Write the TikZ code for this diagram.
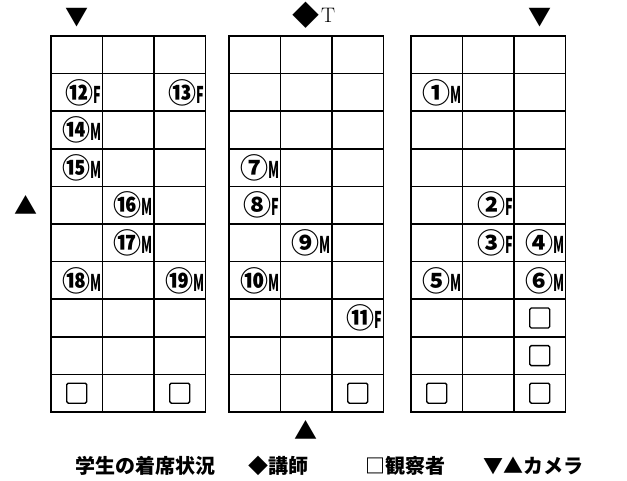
\documentclass[tikz,border=0pt]{standalone}
\usepackage{fontspec}
\usepackage{graphicx}
\newfontfamily\jpfont{Noto Sans CJK JP}
\usepackage{tikz}
\usetikzlibrary{positioning}

\newcommand{\sexmark}[1]{\scalebox{0.55}[1]{\fontsize{23}{23}\selectfont\bfseries #1}}

\begin{document}
\begin{tikzpicture}[
			x=1pt,y=-1pt,
			node distance=10pt,
			cell/.style={
				draw,
				line width=1.5pt,
				minimum width=51.5pt,
				minimum height=37.6pt,
				inner sep=0pt,
				outer sep=0pt
			},
			seat/.style={font=\jpfont\fontsize{28}{28}\selectfont\bfseries,inner sep=0pt,anchor=east},
			obs/.style={draw,line width=1.4pt,rounded corners=1.5pt,minimum size=20pt,inner sep=0pt},
			cam/.style={font=\jpfont\fontsize{23}{23}\selectfont,inner sep=0pt},
			legend/.style={font=\jpfont\fontsize{20}{20}\selectfont\bfseries,inner sep=0pt,anchor=base west}
			]
			\useasboundingbox (0,0) rectangle (627,481);
			
			% three blocks of desks
			\foreach \g/\x in {L/51,C/229,R/411}
			\foreach \r in {1,...,10}
			\foreach \c in {1,2,3}
			\node[cell] (\g-\r-\c) at ({\x+(\c-0.5)*51.5},{36+(\r-0.5)*37.6}) {};
			
			% students
			\foreach \cl/\num/\sx in {L-2-1/⑫/F,L-2-3/⑬/F,L-3-1/⑭/M,L-4-1/⑮/M,
				L-5-2/⑯/M,L-6-2/⑰/M,L-7-1/⑱/M,L-7-3/⑲/M,
				C-4-1/⑦/M,C-5-1/⑧/F,C-6-2/⑨/M,C-7-1/⑩/M,C-8-3/⑪/F,
				R-2-1/①/M,R-5-2/②/F,R-6-2/③/F,R-6-3/④/M,R-7-1/⑤/M,R-7-3/⑥/M}
			\node[seat] (p-\cl) at ([xshift=-1pt]\cl.east) {\num\sexmark{\sx}};
			
			% observers
			\foreach \cl in {L-10-1,L-10-3,C-10-3,R-8-3,R-9-3,R-10-1,R-10-3}
			\node[obs] (o-\cl) at (\cl) {};
			
			% cameras and teacher
			\node[cam,above=9pt of L-1-1] (camTL) {▼};
			\node[cam,above=9pt of R-1-3] (camTR) {▼};
			\node[cam,left=13pt of L-5-1] (camML) {▲};
			\node[cam,below=8pt of C-10-2] (camB) {▲};
			\node[cam,above=7pt of C-1-2,font=\jpfont\fontsize{27}{27}\selectfont] (teacher) {◆};
			\node[right=1pt of teacher,inner sep=0pt,font=\fontsize{21}{21}\selectfont] (tlabel) {T};
			
			% legend
			\node[legend] (cap) at (75,473) {学生の着席状況};
			\node[legend] (keyT) at (248,473) {◆講師};
			\node[legend] (keyO) at (365,473) {□観察者};
			\node[legend] (keyC) at (483,473) {▼▲カメラ};
			
		\end{tikzpicture}
\end{document}
